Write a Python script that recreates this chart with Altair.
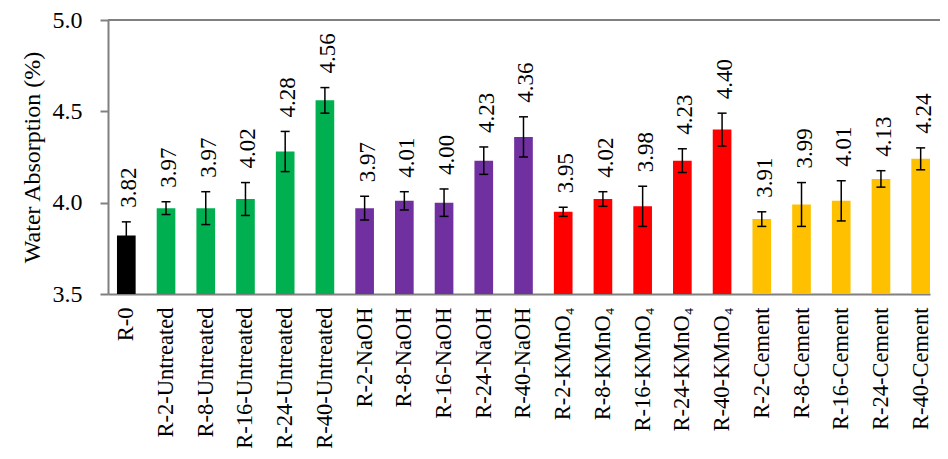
import altair as alt
import pandas as pd

categories = [
    "R-0",
    "R-2-Untreated", "R-8-Untreated", "R-16-Untreated", "R-24-Untreated", "R-40-Untreated",
    "R-2-NaOH", "R-8-NaOH", "R-16-NaOH", "R-24-NaOH", "R-40-NaOH",
    "R-2-KMnO₄", "R-8-KMnO₄", "R-16-KMnO₄", "R-24-KMnO₄", "R-40-KMnO₄",
    "R-2-Cement", "R-8-Cement", "R-16-Cement", "R-24-Cement", "R-40-Cement",
]
values = [3.82,
          3.97, 3.97, 4.02, 4.28, 4.56,
          3.97, 4.01, 4.00, 4.23, 4.36,
          3.95, 4.02, 3.98, 4.23, 4.40,
          3.91, 3.99, 4.01, 4.13, 4.24]
errors = [0.075,
          0.035, 0.09, 0.09, 0.11, 0.07,
          0.065, 0.05, 0.075, 0.075, 0.11,
          0.025, 0.04, 0.11, 0.065, 0.09,
          0.04, 0.12, 0.11, 0.045, 0.06]
groups = ["Control"] + ["Untreated"] * 5 + ["NaOH"] * 5 + ["KMnO4"] * 5 + ["Cement"] * 5
group_names = ["Control", "Untreated", "NaOH", "KMnO4", "Cement"]
group_colors = ["#000000", "#00B050", "#7030A0", "#FF0000", "#FFC000"]

df = pd.DataFrame({"category": categories, "value": values, "err": errors, "group": groups})
df["top"] = df["value"] + df["err"]
df["low"] = df["value"] - df["err"]

FONT = "Liberation Serif"
GREY = "#808080"
W, H = 822, 274
PAD_R = 10

xenc = alt.X(
    "category:N", sort=categories,
    scale=alt.Scale(paddingInner=0.53, paddingOuter=0.113, align=1),
    axis=alt.Axis(title=None, labelAngle=270, ticks=False, labelPadding=13,
                  labelFont=FONT, labelFontSize=22.5, labelColor="black", labelLimit=400,
                  domainColor=GREY, domainWidth=2),
)
yscale = alt.Scale(domain=[3.5, 5.0], nice=False, zero=False)
yaxis = alt.Axis(title="Water Absorption (%)", values=[3.5, 4.0, 4.5, 5.0], format=".1f",
                 grid=False, tickSize=8, tickColor=GREY, tickWidth=2,
                 domainColor=GREY, domainWidth=2, labelPadding=18,
                 labelFont=FONT, labelFontSize=24, labelColor="black",
                 titleFont=FONT, titleFontSize=24, titleFontWeight="normal",
                 titleColor="black", titlePadding=8)

base = alt.Chart(df).encode(x=xenc)

bars = base.mark_bar().encode(
    y=alt.Y("value:Q", scale=yscale, axis=yaxis),
    y2=alt.datum(3.5),
    color=alt.Color("group:N", scale=alt.Scale(domain=group_names, range=group_colors), legend=None),
)
rules = base.mark_rule(color="black", strokeWidth=1.5).encode(
    y=alt.Y("low:Q", scale=yscale, axis=yaxis), y2="top:Q")
cap_top = base.mark_tick(color="black", thickness=1.5, size=9, opacity=1).encode(
    y=alt.Y("top:Q", scale=yscale, axis=yaxis))
cap_low = base.mark_tick(color="black", thickness=1.5, size=9, opacity=1).encode(
    y=alt.Y("low:Q", scale=yscale, axis=yaxis))
labels = base.mark_text(angle=270, align="left", baseline="middle", dx=14, dy=3,
                        font=FONT, fontSize=23, color="black").encode(
    y=alt.Y("top:Q", scale=yscale, axis=yaxis),
    text=alt.Text("value:Q", format=".2f"))

top_border = alt.Chart(df).mark_rule(color=GREY, strokeWidth=2).encode(
    x=alt.value(0), x2=alt.value(W + PAD_R), y=alt.value(0))

chart = alt.layer(bars, rules, cap_top, cap_low, labels, top_border).properties(
    width=W, height=H,
    autosize=alt.AutoSizeParams(type="none"),
    padding={"left": 100, "top": 12, "right": PAD_R, "bottom": 157},
).configure_view(stroke=None)

chart.save("out.html", embed_options={"renderer": "svg", "actions": False})
